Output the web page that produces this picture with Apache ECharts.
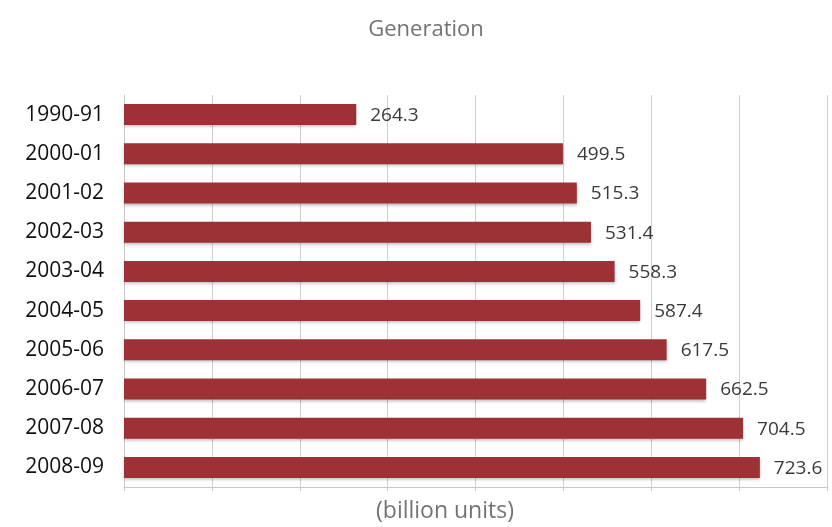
<!DOCTYPE html>
<html>
<head>
<meta charset="utf-8">
<script src="https://cdn.jsdelivr.net/npm/echarts@6/dist/echarts.min.js"></script>
<style>
  html, body { margin: 0; padding: 0; background: #fff; }
  #chart { width: 832px; height: 527px; }
</style>
</head>
<body>
<div id="chart"></div>
<script>
// categories, top to bottom
const years = ["1990-91", "2000-01", "2001-02", "2002-03", "2003-04", "2004-05", "2005-06", "2006-07", "2007-08", "2008-09"];
// generation, billion units
const generation = [264.3, 499.5, 515.3, 531.4, 558.3, 587.4, 617.5, 662.5, 704.5, 723.6];

const FONT = "'Open Sans', Lato, sans-serif";
const chart = echarts.init(document.getElementById("chart"));

const option = {
  animation: false,
  textStyle: { fontFamily: FONT },
  title: [
    {
      text: "Generation",
      left: 421,
      textAlign: "center",
      top: 14,
      textStyle: { color: "#737373", fontSize: 22, fontWeight: "normal", fontFamily: FONT },
    },
    {
      text: "(billion units)",
      left: 440,
      textAlign: "center",
      top: 495,
      textStyle: { color: "#737373", fontSize: 23, fontWeight: "normal", fontFamily: FONT },
    },
  ],
  grid: {
    left: 124,
    right: 5,
    top: 95,
    bottom: 40,
  },
  xAxis: {
    type: "value",
    min: 0,
    max: 800,
    interval: 100,
    axisLabel: { show: false },
    axisLine: { show: true, lineStyle: { color: "#c8c8c8" } },
    axisTick: { show: true, length: 4, lineStyle: { color: "#c8c8c8" } },
    splitLine: { show: true, lineStyle: { color: "#cfcfcf", width: 1 } },
  },
  yAxis: {
    type: "category",
    data: years,
    inverse: true,
    axisLine: { show: true, lineStyle: { color: "#c8c8c8" } },
    axisTick: { show: false },
    axisLabel: { color: "#111", fontSize: 21, margin: 20, fontFamily: FONT },
  },
  series: [
    {
      type: "bar",
      data: generation,
      barWidth: 21,
      itemStyle: {
        color: "#9c3136",
        shadowColor: "rgba(0,0,0,0.25)",
        shadowBlur: 3,
        shadowOffsetY: 2,
      },
      label: {
        show: true,
        position: "right",
        distance: 14,
        color: "#3a3a3a",
        fontSize: 19,
        offset: [0, 1],
        fontFamily: FONT,
      },
    },
  ],
};

chart.setOption(option);
</script>
</body>
</html>
